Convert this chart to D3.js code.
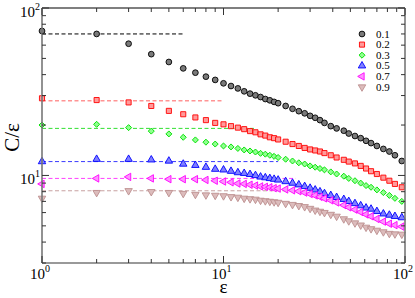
<!DOCTYPE html>
<html>
<head>
<meta charset="utf-8">
<script src="https://cdn.jsdelivr.net/npm/d3@7/dist/d3.min.js"></script>
<style>
  body { margin: 0; background: #fff; }
  svg { display: block; }
</style>
</head>
<body>
<div id="chart"></div>
<script>
// epsilon values (shared by all series)
const eps = [1, 2, 3, 4, 5, 6, 7, 8, 9, 10, 11, 12, 13, 14, 15, 16, 17, 18, 19, 20,
  22, 24, 26, 28, 30, 32, 34, 36, 39, 42, 46, 49, 53, 57, 61, 65, 70, 76, 82, 88, 96];

const labels = ['0.1', '0.2', '0.3', '0.5', '0.7', '0.9'];

const c01 = [72.9, 70, 61.2, 53, 47.6, 43.6, 41.1, 38.9, 37.2, 35.5, 34.2, 33.1, 31.8, 30.8, 30.1, 29.4, 28.6, 28.1, 27.5, 27.0,
  26.0, 25.0, 24.2, 23.5, 22.7, 22.1, 21.4, 20.6, 19.7, 19.1, 18.5, 17.8, 17.2, 16.7, 16.1, 15.6, 15.0, 14.4, 13.9, 13.2, 12.2];
const c02 = [28.9, 28.2, 27.3, 26.0, 24.3, 23.2, 22.2, 21.4, 20.6, 20.2, 19.7, 19.3, 18.9, 18.4, 18.1, 17.6, 17.3, 16.9, 16.7, 16.4,
  15.9, 15.4, 15.0, 14.6, 14.3, 14.1, 13.9, 13.6, 13.2, 12.8, 12.4, 12.1, 11.8, 11.4, 11.0, 10.6, 10.2, 9.7, 9.3, 8.9, 8.5];
const c03 = [20.0, 20.2, 19.3, 18.4, 17.7, 16.9, 16.3, 15.8, 15.4, 15.0, 14.8, 14.5, 14.2, 14.0, 13.8, 13.55, 13.4, 13.2, 13.0, 12.8,
  12.5, 12.2, 11.9, 11.7, 11.4, 11.2, 11.0, 10.8, 10.5, 10.2, 9.9, 9.6, 9.3, 9.0, 8.7, 8.5, 8.2, 7.9, 7.6, 7.3, 7.0];
const c05 = [12.1, 12.5, 12.5, 12.4, 12.2, 11.7, 11.5, 11.2, 10.9, 10.8, 10.6, 10.4, 10.3, 10.15, 10.0, 9.8, 9.7, 9.6, 9.5, 9.4,
  9.2, 9.0, 8.8, 8.6, 8.4, 8.2, 8.0, 7.8, 7.6, 7.4, 7.2, 7.0, 6.8, 6.6, 6.4, 6.3, 6.1, 5.9, 5.8, 5.7, 5.6];
const c07 = [8.9, 9.6, 9.8, 9.6, 9.5, 9.5, 9.5, 9.4, 9.3, 9.2, 9.1, 8.95, 8.9, 8.8, 8.7, 8.6, 8.55, 8.5, 8.4, 8.35,
  8.25, 8.15, 8.05, 7.9, 7.75, 7.6, 7.45, 7.3, 7.1, 6.9, 6.65, 6.45, 6.25, 6.05, 5.85, 5.7, 5.5, 5.3, 5.15, 5.05, 4.95];
const c09 = [7.3, 7.9, 8.1, 8.0, 7.9, 7.8, 7.7, 7.64, 7.6, 7.55, 7.46, 7.4, 7.3, 7.25, 7.2, 7.1, 7.05, 7.0, 6.95, 6.9,
  6.8, 6.7, 6.6, 6.5, 6.35, 6.2, 6.1, 6.0, 5.85, 5.7, 5.5, 5.35, 5.2, 5.05, 4.9, 4.8, 4.7, 4.6, 4.5, 4.47, 4.45];

// dashed plateau guides: level and the epsilon where each one stops
const plateau = [70, 27.9, 19.1, 12.1, 9.6, 8.1];
const plateauEnd = [6, 10, 15, 20, 25, 30];

const xMajor = [1, 10, 100];
const yMajor = [10, 100];

let serif = "'Liberation Serif', 'DejaVu Serif', serif";

let config = {
  width: 415,
  height: 298,
  left: 42,
  right: 405,
  top: 8,
  bottom: 263,
  majorTick: 7,
  minorTick: 4
};

let styles = [
  { shape: 'circle', stroke: '#000', fill: '#7a7a7a', dash: '#000' },
  { shape: 'square', stroke: '#ff0000', fill: '#ff9a9a', dash: '#ff6060' },
  { shape: 'diamond', stroke: '#00e000', fill: '#90ff90', dash: '#30e030' },
  { shape: 'up', stroke: '#0000ff', fill: '#8080ff', dash: '#3a3aff' },
  { shape: 'left', stroke: '#ff00ff', fill: '#ff90ff', dash: '#ff40ff' },
  { shape: 'down', stroke: '#bc8f8f', fill: '#dcbcbc', dash: '#c8a0a0' }
];
let allSeries = [c01, c02, c03, c05, c07, c09];

let svg = d3.select('#chart').append('svg')
  .attr('width', config.width)
  .attr('height', config.height)
  .attr('font-family', serif);

let x = d3.scaleLog().domain([1, 100]).range([config.left, config.right]);
let y = d3.scaleLog().domain([3, 100]).range([config.bottom, config.top]);

let symbolPath = (shape) => {
  if (shape === 'circle') return d3.symbol(d3.symbolCircle, 26)();
  if (shape === 'square') return d3.symbol(d3.symbolSquare, 26)();
  if (shape === 'diamond') return d3.symbol(d3.symbolSquare, 18)();
  return d3.symbol(d3.symbolTriangle, 24)();
};
let symbolRot = { circle: 0, square: 0, diamond: 45, up: 0, left: -90, down: 180 };

// dashed guides
let guides = svg.append('g').attr('class', 'guides');
plateau.forEach((v, i) => {
  guides.append('line')
    .attr('x1', x(1)).attr('x2', x(plateauEnd[i]))
    .attr('y1', y(v)).attr('y2', y(v))
    .attr('stroke', styles[i].dash)
    .attr('stroke-width', 1)
    .attr('stroke-dasharray', '4,2.5');
});

// markers
allSeries.forEach((vals, i) => {
  let st = styles[i];
  let d = symbolPath(st.shape);
  svg.append('g').attr('class', 'series')
    .selectAll('path')
    .data(vals)
    .enter().append('path')
    .attr('d', d)
    .attr('transform', (v, j) => `translate(${x(eps[j])},${y(v)}) rotate(${symbolRot[st.shape]})`)
    .attr('fill', st.fill)
    .attr('stroke', st.stroke)
    .attr('stroke-width', 0.9);
});

// frame
let frame = svg.append('g').attr('class', 'frame');
frame.append('line').attr('x1', config.left).attr('x2', config.right)
  .attr('y1', config.top).attr('y2', config.top).attr('stroke', '#000').attr('stroke-width', 1.2);
frame.append('line').attr('x1', config.right).attr('x2', config.right)
  .attr('y1', config.top).attr('y2', config.bottom).attr('stroke', '#777').attr('stroke-width', 1.6);
frame.append('line').attr('x1', config.left).attr('x2', config.left)
  .attr('y1', config.top).attr('y2', config.bottom).attr('stroke', '#777').attr('stroke-width', 1.6);
frame.append('line').attr('x1', config.left).attr('x2', config.right)
  .attr('y1', config.bottom).attr('y2', config.bottom).attr('stroke', '#777').attr('stroke-width', 1.6);

// ticks, all pointing inward
let xTickVals = [];
[1, 10].forEach(d => { for (let k = 1; k < 10; k++) xTickVals.push(d * k); });
xTickVals.push(100);
let yTickVals = [];
[1, 10].forEach(d => { for (let k = 1; k < 10; k++) if (d * k >= 3) yTickVals.push(d * k); });
yTickVals.push(100);

let ticks = svg.append('g').attr('class', 'ticks').attr('stroke', '#333').attr('stroke-width', 1);
xTickVals.forEach(v => {
  let len = xMajor.includes(v) ? config.majorTick : config.minorTick;
  ticks.append('line').attr('x1', x(v)).attr('x2', x(v))
    .attr('y1', config.bottom).attr('y2', config.bottom - len);
  ticks.append('line').attr('x1', x(v)).attr('x2', x(v))
    .attr('y1', config.top).attr('y2', config.top + len);
});
yTickVals.forEach(v => {
  let len = yMajor.includes(v) ? config.majorTick : config.minorTick;
  ticks.append('line').attr('y1', y(v)).attr('y2', y(v))
    .attr('x1', config.left).attr('x2', config.left + len);
  ticks.append('line').attr('y1', y(v)).attr('y2', y(v))
    .attr('x1', config.right).attr('x2', config.right - len);
});

// tick labels "10^n"
let powLabel = (g, px, py, exp, anchor) => {
  let t = g.append('text')
    .attr('x', px).attr('y', py)
    .attr('text-anchor', anchor)
    .attr('font-size', 15)
    .attr('fill', '#000');
  t.append('tspan').text('10');
  t.append('tspan').attr('font-size', 10).attr('dy', -7).text(exp);
};
let lbl = svg.append('g').attr('class', 'tick-labels');
xMajor.forEach(v => powLabel(lbl, x(v) - 2, 279, String(Math.log10(v)), 'middle'));
yMajor.forEach(v => powLabel(lbl, 40, y(v) + 9, String(Math.log10(v)), 'end'));

// axis titles
svg.append('text')
  .attr('x', x(10)).attr('y', 293)
  .attr('text-anchor', 'middle')
  .attr('font-size', 19)
  .text('ε');
svg.append('text')
  .attr('transform', `translate(19,${(config.top + config.bottom) / 2 + 2}) rotate(-90)`)
  .attr('text-anchor', 'middle')
  .attr('font-size', 21)
  .text('C/ε');

// legend
let legend = svg.append('g').attr('class', 'legend');
labels.forEach((name, i) => {
  let st = styles[i];
  let ly = 34 + i * 10.6;
  legend.append('path')
    .attr('d', symbolPath(st.shape))
    .attr('transform', `translate(362,${ly}) rotate(${symbolRot[st.shape]})`)
    .attr('fill', st.fill)
    .attr('stroke', st.stroke)
    .attr('stroke-width', 0.9);
  legend.append('text')
    .attr('x', 376).attr('y', ly + 3.5)
    .attr('font-size', 11)
    .text(name);
});
</script>
</body>
</html>
